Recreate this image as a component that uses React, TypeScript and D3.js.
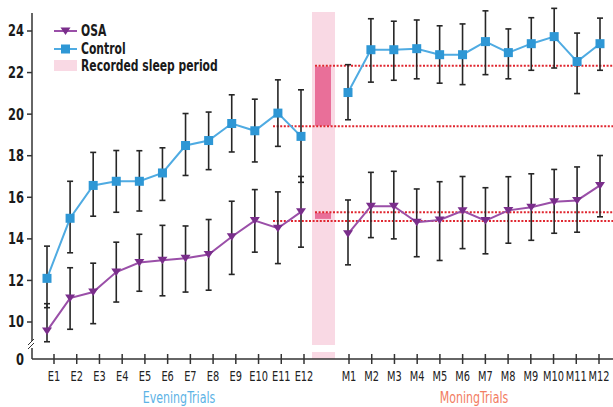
import React, { useEffect, useRef } from "react";
import * as d3 from "d3";

const eveningTrials = ["E1", "E2", "E3", "E4", "E5", "E6", "E7", "E8", "E9", "E10", "E11", "E12"];
const morningTrials = ["M1", "M2", "M3", "M4", "M5", "M6", "M7", "M8", "M9", "M10", "M11", "M12"];
const yTicks = [10, 12, 14, 16, 18, 20, 22, 24];

const controlEvening = [12.1, 14.99, 16.57, 16.77, 16.77, 17.17, 18.49, 18.73, 19.55, 19.2, 20.05, 18.93];
const controlEveningHi = [13.65, 16.77, 18.16, 18.25, 18.24, 18.38, 20.03, 20.1, 20.93, 20.72, 21.65, 21.17];
const controlEveningLo = [10.69, 13.33, 15.09, 15.28, 15.34, 15.85, 17.05, 17.33, 18.18, 17.7, 18.45, 16.72];
const osaEvening = [9.57, 11.15, 11.44, 12.4, 12.86, 12.97, 13.07, 13.25, 14.1, 14.88, 14.51, 15.3];
const osaEveningHi = [10.88, 12.61, 12.83, 13.84, 14.22, 14.65, 14.62, 14.93, 15.81, 16.37, 16.26, 17.0];
const osaEveningLo = [9.05, 9.65, 9.92, 10.96, 11.48, 11.26, 11.44, 11.53, 12.29, 13.36, 12.81, 13.6];

const controlMorning = [21.04, 23.1, 23.1, 23.15, 22.86, 22.86, 23.49, 22.96, 23.39, 23.73, 22.53, 23.39];
const controlMorningHi = [22.38, 24.59, 24.47, 24.53, 24.25, 24.34, 24.97, 24.1, 24.64, 25.09, 23.9, 24.62];
const controlMorningLo = [19.73, 21.54, 21.63, 21.7, 21.49, 21.42, 21.9, 21.7, 22.11, 22.22, 20.99, 22.11];
const osaMorning = [14.24, 15.57, 15.57, 14.8, 14.91, 15.35, 14.88, 15.37, 15.52, 15.78, 15.85, 16.57];
const osaMorningHi = [15.87, 17.2, 17.25, 16.4, 16.75, 17.0, 16.46, 16.99, 17.13, 17.34, 17.46, 18.01];
const osaMorningLo = [12.75, 14.06, 14.0, 13.14, 12.96, 13.53, 13.28, 13.79, 13.93, 14.27, 14.32, 15.06];

// sleep period bars and dotted reference levels
const controlSleepBar = [19.44, 22.29];
const controlRefLines = [19.42, 22.33];
const osaSleepBar = [14.96, 15.25];
const osaRefLines = [14.86, 15.28];

const CONTROL_LINE = "#4fabe2";
const CONTROL_MARK = "#2e97d5";
const OSA_LINE = "#9a4fa8";
const OSA_MARK = "#7a2e8b";
const FONT = "'DejaVu Sans Condensed', 'Liberation Sans', sans-serif";

export default function App() {
  const ref = useRef<SVGSVGElement>(null);

  useEffect(() => {
    const svg = d3.select(ref.current);
    svg.selectAll("*").remove();

    // narrow text: squeeze horizontally to mimic a condensed face
    const label = (x: number, yy: number, t: string, opts: { size: number; bold?: boolean; anchor?: string; fill?: string; sx?: number }) => {
      svg.append("g").attr("transform", `translate(${x},${yy}) scale(${opts.sx ?? 0.8},1)`)
        .append("text").attr("dy", "0.36em").attr("text-anchor", opts.anchor ?? "start")
        .attr("font-family", FONT).attr("font-weight", opts.bold ? "bold" : "normal")
        .attr("font-size", opts.size).attr("fill", opts.fill ?? "#1a1a1a").text(t);
    };

    const axisX = 32;
    const axisY = 359;
    const plotTop = 12;
    const breakTop = 341;
    const breakBot = 348;

    const y = d3.scaleLinear().domain([10, 24]).range([322, 31]);
    const xEvePts = d3.scalePoint().domain(eveningTrials).range([47, 301]);
    const xMorPts = d3.scalePoint().domain(morningTrials).range([348, 600]);
    const xEveTicks = d3.scalePoint().domain(eveningTrials).range([54, 304]);
    const xMorTicks = d3.scalePoint().domain(morningTrials).range([349, 599]);

    // sleep period band
    const bandX0 = 312, bandX1 = 335;
    svg.append("rect").attr("x", bandX0).attr("y", plotTop).attr("width", bandX1 - bandX0)
      .attr("height", breakTop + 4 - plotTop).attr("fill", "#f9d9e4");
    svg.append("rect").attr("x", bandX0).attr("y", breakBot + 4).attr("width", bandX1 - bandX0)
      .attr("height", axisY - breakBot - 4).attr("fill", "#f9d9e4");

    const barX0 = 315, barX1 = 331;
    [controlSleepBar, osaSleepBar].forEach((b) => {
      svg.append("rect").attr("x", barX0).attr("y", y(b[1])).attr("width", barX1 - barX0)
        .attr("height", y(b[0]) - y(b[1])).attr("fill", "#e96f99");
    });

    // dotted reference lines
    const refs: [number, number][] = [
      [controlRefLines[0], 273], [controlRefLines[1], 315],
      [osaRefLines[0], 273], [osaRefLines[1], 315],
    ];
    refs.forEach(([v, x0]) => {
      svg.append("line").attr("x1", x0).attr("x2", 613).attr("y1", y(v)).attr("y2", y(v))
        .attr("stroke", "#e0262f").attr("stroke-width", 2).attr("stroke-dasharray", "2,1.6");
    });

    // axes
    const axisColor = "#333";
    svg.append("line").attr("x1", axisX).attr("x2", axisX).attr("y1", 13).attr("y2", breakTop)
      .attr("stroke", axisColor).attr("stroke-width", 1.5);
    svg.append("line").attr("x1", axisX).attr("x2", axisX).attr("y1", breakBot).attr("y2", axisY)
      .attr("stroke", axisColor).attr("stroke-width", 1.5);
    [0, 4].forEach((d) => {
      svg.append("line").attr("x1", axisX - 4).attr("x2", axisX + 2)
        .attr("y1", breakTop + 4 + d).attr("y2", breakTop - 2 + d)
        .attr("stroke", axisColor).attr("stroke-width", 1);
    });
    svg.append("line").attr("x1", axisX).attr("x2", 613).attr("y1", axisY).attr("y2", axisY)
      .attr("stroke", axisColor).attr("stroke-width", 1.5);

    yTicks.forEach((t) => {
      svg.append("line").attr("x1", axisX - 5).attr("x2", axisX).attr("y1", y(t)).attr("y2", y(t))
        .attr("stroke", axisColor).attr("stroke-width", 1.5);
      label(24, y(t), String(t), { size: 15, bold: true, anchor: "end", sx: 0.85 });
    });
    label(24, axisY + 1, "0", { size: 15, bold: true, anchor: "end", sx: 0.85 });

    const xTick = (names: string[], sc: d3.ScalePoint<string>) => {
      names.forEach((n) => {
        const x = sc(n) as number;
        svg.append("line").attr("x1", x).attr("x2", x).attr("y1", axisY - 5).attr("y2", axisY + 5)
          .attr("stroke", axisColor).attr("stroke-width", 1.5);
        label(x, 376, n, { size: 14, anchor: "middle", fill: "#222", sx: 0.78 });
      });
    };
    xTick(eveningTrials, xEveTicks);
    xTick(morningTrials, xMorTicks);

    label(179, 398, "EveningTrials", { size: 15, anchor: "middle", fill: "#5cb3e6", sx: 0.82 });
    label(474, 398, "MoningTrials", { size: 15, anchor: "middle", fill: "#f27d62", sx: 0.82 });

    // series
    type Pt = { x: number; v: number; hi: number; lo: number };
    const build = (names: string[], sc: d3.ScalePoint<string>, v: number[], hi: number[], lo: number[]): Pt[] =>
      names.map((n, i) => ({ x: sc(n) as number, v: v[i], hi: hi[i], lo: lo[i] }));

    const series = [
      { pts: build(eveningTrials, xEvePts, osaEvening, osaEveningHi, osaEveningLo), line: OSA_LINE, mark: OSA_MARK, shape: "tri" },
      { pts: build(morningTrials, xMorPts, osaMorning, osaMorningHi, osaMorningLo), line: OSA_LINE, mark: OSA_MARK, shape: "tri" },
      { pts: build(eveningTrials, xEvePts, controlEvening, controlEveningHi, controlEveningLo), line: CONTROL_LINE, mark: CONTROL_MARK, shape: "sq" },
      { pts: build(morningTrials, xMorPts, controlMorning, controlMorningHi, controlMorningLo), line: CONTROL_LINE, mark: CONTROL_MARK, shape: "sq" },
    ];

    // error bars first
    series.forEach((s) => {
      const g = svg.append("g");
      s.pts.forEach((p) => {
        g.append("line").attr("x1", p.x).attr("x2", p.x).attr("y1", y(p.hi)).attr("y2", y(p.lo))
          .attr("stroke", "#262626").attr("stroke-width", 1.6);
        [p.hi, p.lo].forEach((c) => {
          g.append("line").attr("x1", p.x - 3).attr("x2", p.x + 3).attr("y1", y(c)).attr("y2", y(c))
            .attr("stroke", "#262626").attr("stroke-width", 1.6);
        });
      });
    });

    const lineGen = d3.line<Pt>().x((d) => d.x).y((d) => y(d.v));
    series.forEach((s) => {
      svg.append("path").datum(s.pts).attr("d", lineGen).attr("fill", "none")
        .attr("stroke", s.line).attr("stroke-width", 2);
      s.pts.forEach((p) => {
        if (s.shape === "sq") {
          svg.append("rect").attr("x", p.x - 4.5).attr("y", y(p.v) - 4.5).attr("width", 9).attr("height", 9)
            .attr("fill", s.mark);
        } else {
          const cy = y(p.v);
          svg.append("path").attr("d", `M${p.x - 5},${cy - 3.5}L${p.x + 5},${cy - 3.5}L${p.x},${cy + 4}Z`)
            .attr("fill", s.mark);
        }
      });
    });

    // legend
    const lx0 = 54, lx1 = 77, tx = 81;
    svg.append("line").attr("x1", lx0).attr("x2", lx1).attr("y1", 31).attr("y2", 31)
      .attr("stroke", OSA_LINE).attr("stroke-width", 2);
    svg.append("path").attr("d", `M${65.5 - 5},${31 - 3.5}L${65.5 + 5},${31 - 3.5}L65.5,${31 + 4}Z`).attr("fill", OSA_MARK);
    svg.append("line").attr("x1", lx0).attr("x2", lx1).attr("y1", 49).attr("y2", 49)
      .attr("stroke", CONTROL_LINE).attr("stroke-width", 2);
    svg.append("rect").attr("x", 61).attr("y", 44.5).attr("width", 9).attr("height", 9).attr("fill", CONTROL_MARK);
    svg.append("rect").attr("x", lx0).attr("y", 60).attr("width", lx1 - lx0).attr("height", 11).attr("fill", "#f9d9e4");

    label(tx, 31, "OSA", { size: 15, bold: true, sx: 0.8 });
    label(tx, 49, "Control", { size: 15, bold: true, sx: 0.8 });
    label(tx, 66, "Recorded sleep period", { size: 15, bold: true, sx: 0.8 });
  }, []);

  return (
    <svg
      ref={ref}
      width={613}
      height={407}
      style={{ position: "absolute", left: 0, top: 0, background: "#fff" }}
    />
  );
}
